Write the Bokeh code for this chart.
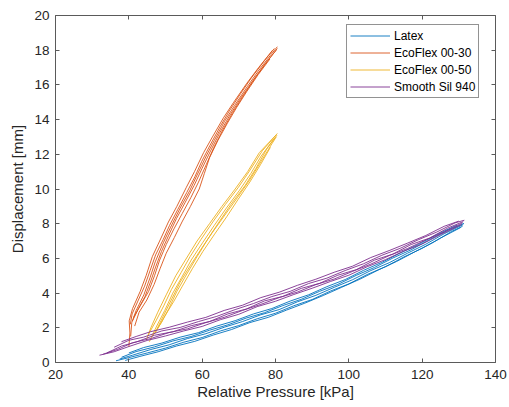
from bokeh.plotting import figure
from bokeh.models import Range1d, LinearAxis, FixedTicker, Legend
from bokeh.embed import file_html
from bokeh.resources import INLINE

# ---------------- data ----------------
x_ticks = [20, 40, 60, 80, 100, 120, 140]
y_ticks = [0, 2, 4, 6, 8, 10, 12, 14, 16, 18, 20]

series_names = ["Latex", "EcoFlex 00-30", "EcoFlex 00-50", "Smooth Sil 940"]
series_colors = ["#0072BD", "#D95319", "#EDB120", "#7E2F8E"]

# Latex: relative pressure [kPa] / displacement [mm], one list per trial
latex_p = [
    [36.5, 40, 45, 50, 55, 60, 65, 70, 75, 80, 85, 90, 95, 100, 105, 110, 115, 120, 125, 130.5],
    [37.5, 41, 46, 51, 56, 61, 66, 71, 76, 81, 86, 91, 96, 101, 106, 111, 116, 121, 126, 131.2],
    [38, 42, 47, 52, 57, 62, 67, 72, 77, 82, 87, 92, 97, 102, 107, 112, 117, 122, 127, 131.4],
    [40, 44, 49, 54, 59, 64, 69, 74, 79, 84, 89, 94, 99, 104, 109, 114, 119, 124, 129.5],
    [39, 43, 48, 53, 58, 63, 68, 73, 78, 83, 88, 93, 98, 103, 108, 113, 118, 123, 128, 131],
]
latex_d = [
    [0.10, 0.28, 0.55, 0.83, 1.17, 1.44, 1.82, 2.13, 2.52, 2.84, 3.27, 3.63, 4.12, 4.53, 5.07, 5.52, 6.08, 6.58, 7.17, 7.78],
    [0.20, 0.42, 0.75, 1.02, 1.38, 1.66, 2.03, 2.36, 2.75, 3.05, 3.50, 3.87, 4.33, 4.77, 5.30, 5.75, 6.30, 6.82, 7.42, 7.95],
    [0.30, 0.63, 0.90, 1.24, 1.50, 1.86, 2.17, 2.56, 2.87, 3.28, 3.64, 4.10, 4.50, 5.02, 5.48, 6.02, 6.50, 7.08, 7.62, 8.02],
    [0.55, 0.86, 1.12, 1.46, 1.72, 2.10, 2.41, 2.80, 3.11, 3.54, 3.90, 4.37, 4.78, 5.31, 5.77, 6.31, 6.81, 7.38, 7.92],
    [0.12, 0.35, 0.62, 0.95, 1.22, 1.58, 1.90, 2.30, 2.60, 3.02, 3.42, 3.86, 4.33, 4.80, 5.33, 5.82, 6.38, 6.92, 7.55, 7.85],
]

# EcoFlex 00-30
eco30_p = [
    [40.0, 40.3, 40.1, 41.0, 43.1, 44.7, 46.4, 48.4, 50.8, 53.1, 55.7, 57.9, 60.4, 62.8, 65.8, 68.6, 72.2, 75.4, 79.2],
    [40.4, 40.9, 42.6, 44.3, 45.8, 47.3, 49.4, 51.1, 53.3, 55.8, 58.0, 59.9, 62.1, 64.9, 67.4, 70.5, 73.4, 77.0, 79.7],
    [40.5, 40.8, 42.0, 44.1, 45.8, 47.2, 49.4, 51.4, 54.0, 56.6, 58.6, 61.1, 63.3, 66.1, 68.8, 72.3, 75.3, 78.6, 80.5],
    [41.0, 42.6, 44.4, 46.0, 47.3, 48.9, 50.8, 53.0, 55.3, 57.8, 60.0, 62.3, 64.7, 67.4, 70.4, 73.7, 77.1, 80.2],
    [41.3, 43.2, 45.4, 47.0, 48.4, 50.2, 52.3, 54.6, 56.9, 59.0, 61.1, 63.2, 65.6, 68.3, 71.3, 74.4, 77.9, 80.5],
    [41.6, 42.8, 44.9, 46.9, 48.5, 50.2, 52.4, 54.5, 56.8, 59.2, 60.6, 62.0, 64.3, 66.9, 69.4, 72.1, 75.3, 78.5],
]
eco30_d = [
    [0.9, 1.7, 2.4, 3.1, 4.1, 5.0, 6.1, 7.0, 8.1, 9.0, 10.1, 11.0, 12.1, 13.0, 14.1, 15.0, 16.1, 17.0, 18.0],
    [2.2, 2.8, 3.6, 4.4, 5.3, 6.2, 7.1, 7.9, 8.8, 9.8, 10.7, 11.6, 12.5, 13.6, 14.5, 15.5, 16.4, 17.4, 18.1],
    [1.5, 2.3, 3.0, 3.9, 4.9, 5.8, 6.9, 7.8, 8.9, 9.9, 10.8, 11.9, 12.8, 13.9, 14.8, 15.9, 16.8, 17.7, 18.2],
    [2.4, 3.1, 3.8, 4.7, 5.5, 6.4, 7.3, 8.3, 9.2, 10.2, 11.2, 12.2, 13.2, 14.2, 15.2, 16.2, 17.2, 18.0],
    [2.6, 3.3, 4.1, 5.0, 5.9, 6.8, 7.7, 8.6, 9.5, 10.4, 11.4, 12.4, 13.4, 14.4, 15.4, 16.4, 17.4, 18.1],
    [2.1, 2.9, 3.6, 4.5, 5.4, 6.3, 7.2, 8.1, 9.0, 10.0, 10.9, 11.8, 12.8, 13.8, 14.7, 15.6, 16.6, 17.5],
]

# EcoFlex 00-50
eco50_p = [
    [44.8, 46.0, 47.9, 50.2, 52.8, 55.4, 58.6, 62.0, 65.4, 69.0, 72.4, 75.6, 80.1],
    [45.3, 47.4, 49.6, 51.6, 54.3, 56.7, 59.7, 62.9, 66.3, 69.9, 73.1, 76.4, 80.5],
    [45.6, 47.6, 49.8, 52.0, 54.4, 57.0, 60.1, 63.3, 66.6, 70.1, 73.3, 76.1, 79.6],
    [46.4, 48.9, 50.9, 53.1, 55.8, 58.6, 61.5, 64.6, 67.8, 71.7, 74.7, 77.6, 80.4],
    [47.2, 49.6, 52.2, 54.6, 57.3, 60.2, 63.4, 66.7, 69.8, 73.0, 75.9, 78.6],
    [47.6, 49.7, 51.8, 53.9, 56.8, 59.9, 62.8, 66.2, 69.6, 72.9, 76.1, 79.0, 80.2],
]
eco50_d = [
    [1.3, 2.0, 2.9, 3.9, 5.0, 5.9, 7.0, 8.0, 9.0, 10.0, 11.0, 12.1, 13.1],
    [1.6, 2.4, 3.3, 4.2, 5.2, 6.1, 7.1, 8.1, 9.1, 10.1, 11.1, 12.2, 13.2],
    [1.2, 2.1, 3.0, 4.0, 4.9, 5.9, 6.9, 7.9, 8.9, 9.9, 10.9, 11.9, 12.9],
    [1.5, 2.3, 3.1, 4.1, 5.1, 6.1, 7.1, 8.1, 9.1, 10.2, 11.2, 12.3, 13.1],
    [1.7, 2.6, 3.5, 4.4, 5.4, 6.4, 7.4, 8.4, 9.4, 10.4, 11.4, 12.4],
    [1.9, 2.8, 3.7, 4.6, 5.6, 6.6, 7.5, 8.5, 9.5, 10.5, 11.6, 12.6, 13.0],
]

# Smooth Sil 940
sil_p = [
    [32, 36, 40, 45, 50, 55, 60, 65, 70, 75, 80, 85, 90, 95, 100, 105, 110, 115, 120, 125, 130.8],
    [34, 38, 42, 47, 52, 57, 62, 67, 72, 77, 82, 87, 92, 97, 102, 107, 112, 117, 122, 127, 131.2],
    [36, 40, 44, 49, 54, 59, 64, 69, 74, 79, 84, 89, 94, 99, 104, 109, 114, 119, 124, 129, 131.5],
    [38, 42, 46, 51, 56, 61, 66, 71, 76, 81, 86, 91, 96, 101, 106, 111, 116, 121, 126, 130],
    [33, 37, 41, 46, 51, 56, 61, 66, 71, 76, 81, 86, 91, 96, 101, 106, 111, 116, 121, 126, 131],
]
sil_d = [
    [0.42, 0.62, 0.92, 1.27, 1.53, 1.82, 2.08, 2.47, 2.78, 3.22, 3.53, 3.92, 4.28, 4.67, 5.03, 5.52, 5.93, 6.42, 6.83, 7.37, 7.95],
    [0.55, 0.95, 1.18, 1.57, 1.77, 2.12, 2.36, 2.80, 3.08, 3.55, 3.81, 4.27, 4.56, 5.03, 5.35, 5.90, 6.25, 6.80, 7.17, 7.75, 8.12],
    [0.88, 1.28, 1.46, 1.82, 2.02, 2.36, 2.66, 3.05, 3.40, 3.80, 4.10, 4.55, 4.86, 5.30, 5.69, 6.18, 6.58, 7.08, 7.52, 8.05, 8.20],
    [1.20, 1.50, 1.78, 2.03, 2.33, 2.60, 3.00, 3.30, 3.74, 4.05, 4.45, 4.80, 5.20, 5.55, 6.05, 6.45, 6.88, 7.32, 7.85, 8.15],
    [0.48, 0.76, 1.14, 1.38, 1.73, 1.94, 2.30, 2.60, 3.00, 3.35, 3.74, 4.06, 4.49, 4.81, 5.25, 5.67, 6.16, 6.57, 7.06, 7.53, 8.05],
]

# ---------------- figure ----------------
FONT = "Liberation Sans"
TXT = "#262626"
AX = "#5a5a5a"

p = figure(width=509, height=407, output_backend="svg", toolbar_location=None,
           x_range=Range1d(20, 140), y_range=Range1d(0, 20),
           min_border_left=55, min_border_right=14, min_border_top=15, min_border_bottom=45,
           x_axis_label="Relative Pressure [kPa]", y_axis_label="Displacement [mm]")
p.outline_line_color = None
p.grid.visible = False
p.background_fill_color = "white"
p.border_fill_color = "white"

for ax, ticks in ((p.xaxis[0], x_ticks), (p.yaxis[0], y_ticks)):
    ax.ticker = FixedTicker(ticks=ticks)
    ax.axis_line_color = AX
    ax.major_tick_line_color = AX
    ax.major_tick_in = 4
    ax.major_tick_out = 0
    ax.minor_tick_line_color = None
    ax.major_label_text_font = FONT
    ax.major_label_text_font_size = "13.5px"
    ax.major_label_text_color = TXT
    ax.axis_label_text_font = FONT
    ax.axis_label_text_font_size = "15px"
    ax.axis_label_text_font_style = "normal"
    ax.axis_label_text_color = TXT
p.xaxis[0].major_label_standoff = 7
p.xaxis[0].axis_label_standoff = 1
p.yaxis[0].major_label_standoff = 6
p.yaxis[0].axis_label_standoff = 5

for loc, ticks in (("above", x_ticks), ("right", y_ticks)):
    ax = LinearAxis(ticker=FixedTicker(ticks=ticks))
    ax.axis_line_color = AX
    ax.major_tick_line_color = AX
    ax.major_tick_in = 4
    ax.major_tick_out = 0
    ax.minor_tick_line_color = None
    ax.major_label_text_font_size = "0px"
    ax.major_label_standoff = 0
    ax.major_label_text_alpha = 0
    p.add_layout(ax, loc)

all_p = [latex_p, eco30_p, eco50_p, sil_p]
all_d = [latex_d, eco30_d, eco50_d, sil_d]
renderers = []
for name, color, xs, ys in zip(series_names, series_colors, all_p, all_d):
    r = p.multi_line(xs=xs, ys=ys, line_color=color, line_width=0.9)
    renderers.append((name, r))

legend = Legend(items=[(n, [r]) for n, r in renderers], location=(291, 264))
legend.label_text_font = FONT
legend.label_text_font_size = "12px"
legend.label_text_color = "#000000"
legend.glyph_width = 40
legend.glyph_height = 15
legend.label_height = 15
legend.label_standoff = 4
legend.spacing = 2
legend.padding = 3
legend.margin = 0
legend.border_line_color = TXT
legend.border_line_width = 1
legend.background_fill_color = "white"
legend.background_fill_alpha = 1
p.add_layout(legend)

open("out.html", "w").write(file_html(p, INLINE))
